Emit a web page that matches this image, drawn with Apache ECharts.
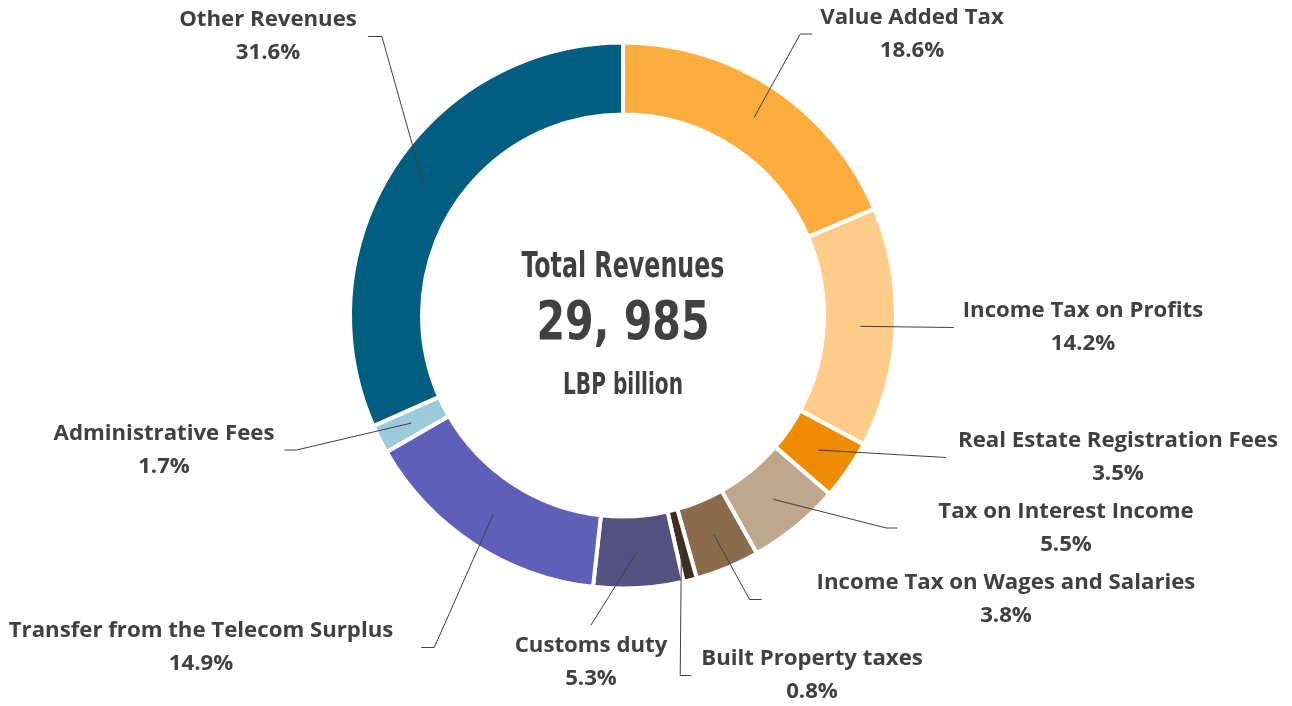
<!DOCTYPE html>
<html><head><meta charset="utf-8">
<script src="https://cdn.jsdelivr.net/npm/echarts@6/dist/echarts.min.js"></script>
<style>html,body{margin:0;padding:0;background:#fff}#c{width:1292px;height:706px}</style>
</head><body><div id="c"></div>
<script>
// ---- data ----
const categories = ['Value Added Tax','Income Tax on Profits','Real Estate Registration Fees','Tax on Interest Income','Income Tax on Wages and Salaries','Built Property taxes','Customs duty','Transfer from the Telecom Surplus','Administrative Fees','Other Revenues'];
const shares = [18.6, 14.2, 3.5, 5.5, 3.8, 0.8, 5.3, 14.9, 1.7, 31.6];
const sliceColors = ['#FCAD3E','#FFCC8A','#EE8B00','#BFA78D','#8A6B4C','#3F2F20','#545180','#5D5FB8','#9BCADB','#015E80'];
const centerTitle = 'Total Revenues';
const centerValue = '29, 985';
const centerUnit = 'LBP billion';

// ---- layout ----
const CX = 623, CY = 315.5, R_IN = 201, R_OUT = 273, BORDER = 4, R_MID = 237.5;
const TEXT = '#404040';
const LABEL_FONT = '"Open Sans"';
// label block centres and leader-line style (side the line enters, gap to text, elbow length)
const labelPlace = [
  {x: 912,  y: 34,    side: 'L', gap: 8,  hook: 12},
  {x: 1083, y: 327.5, side: 'L', gap: 9,  hook: 0},
  {x: 1118, y: 457.5, side: 'L', gap: 12, hook: 0},
  {x: 1066, y: 528,   side: 'L', gap: 41, hook: 11},
  {x: 1006, y: 599.5, side: 'L', gap: 55, hook: 12},
  {x: 812,  y: 675.5, side: 'L', gap: 10, hook: 11},
  {x: 591,  y: 662.5, side: 'T', gap: 10, hook: 0},
  {x: 201,  y: 647.5, side: 'R', gap: 28, hook: 13},
  {x: 164,  y: 450,   side: 'R', gap: 10, hook: 12},
  {x: 268,  y: 36.5,  side: 'R', gap: 11, hook: 14}
];

function measure(text, font) {
  const c = document.createElement('canvas').getContext('2d');
  c.font = font;
  return c.measureText(text).width;
}
// label font size chosen so the longest label matches the reference width
const labelFontSize = 21 * 379 / measure('Income Tax on Wages and Salaries', 'bold 21px ' + LABEL_FONT);

// anchors of leader lines: middle of the ring at each slice's mid angle
const total = shares.reduce((a, b) => a + b, 0);
const anchors = [];
let acc = 0;
shares.forEach(v => {
  const mid = (acc + v / 2) / total * Math.PI * 2;
  anchors.push([CX + R_MID * Math.sin(mid), CY - R_MID * Math.cos(mid)]);
  acc += v;
});

const CF = '"DejaVu Sans Condensed", "DejaVu Sans"';
function centerText(text, size, y, width) {
  const font = 'bold ' + size + 'px ' + CF;
  const s = width / measure(text, font);
  return {
    type: 'text', x: CX, y: y, scaleX: s, z: 10,
    style: {text: text, fontFamily: CF, fontWeight: 'bold', fontSize: size, fill: TEXT, align: 'center', verticalAlign: 'middle'}
  };
}

const pieData = categories.map((n, i) => ({name: n, value: shares[i], itemStyle: {color: sliceColors[i]}}));
const overlayData = categories.map((n, i) => ({name: n, value: shares[i]}));

const chart = echarts.init(document.getElementById('c'), null, {renderer: 'canvas'});
chart.setOption({
  animation: false,
  backgroundColor: '#fff',
  graphic: [
    centerText(centerTitle, 35, 268, 203),
    centerText(centerValue, 53, 325, 173),
    centerText(centerUnit, 30, 386.5, 120)
  ],
  series: [{
    type: 'pie',
    z: 2,
    center: [CX, CY],
    radius: [R_IN, R_OUT],
    startAngle: 90,
    clockwise: true,
    silent: true,
    data: pieData,
    itemStyle: {borderColor: '#fff', borderWidth: BORDER},
    label: {show: false},
    labelLine: {show: false}
  }, {
    // transparent overlay carrying labels and leader lines above the ring
    type: 'pie',
    z: 5,
    center: [CX, CY],
    radius: [R_IN, R_OUT],
    startAngle: 90,
    clockwise: true,
    silent: true,
    avoidLabelOverlap: false,
    data: overlayData,
    itemStyle: {color: 'rgba(0,0,0,0)', borderWidth: 0},
    label: {
      show: true,
      position: 'outside',
      formatter: p => '{n|' + p.name + '}\n{n|' + p.value.toFixed(1) + '%}',
      rich: {n: {fontFamily: LABEL_FONT, fontWeight: 'bold', fontSize: labelFontSize, color: TEXT, lineHeight: 33, align: 'center'}}
    },
    labelLine: {show: true, smooth: false, lineStyle: {color: TEXT, width: 1}},
    labelLayout: function (p) {
      const i = p.dataIndex, L = labelPlace[i], a = anchors[i];
      const w = p.labelRect.width, h = p.labelRect.height;
      let end, elbow;
      if (L.side === 'L') {
        end = [L.x - w / 2 - L.gap, L.y];
        elbow = [end[0] - L.hook, L.y];
      } else if (L.side === 'R') {
        end = [L.x + w / 2 + L.gap, L.y];
        elbow = [end[0] + L.hook, L.y];
      } else {
        end = [L.x, L.y - h / 2 - L.gap];
        elbow = end.slice();
      }
      return {x: L.x, y: L.y, align: 'center', verticalAlign: 'middle', labelLinePoints: [a, elbow, end]};
    }
  }]
});
</script>
</body></html>
